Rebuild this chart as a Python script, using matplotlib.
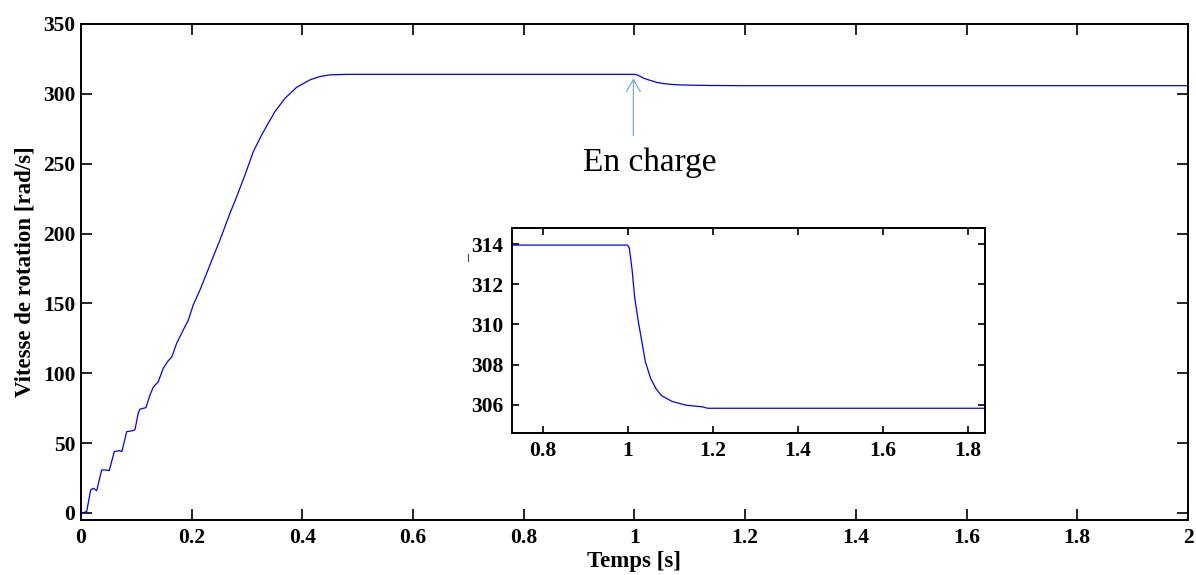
import matplotlib
matplotlib.use("Agg")
import matplotlib.pyplot as plt
from matplotlib.lines import Line2D

plt.rcParams["font.family"] = ["Liberation Serif", "DejaVu Serif"]

# Rotor speed response: start-up ramp, steady state, then load step at t = 1 s
time_s = [0.0, 0.0023, 0.0103, 0.0175, 0.0222, 0.0284, 0.0374, 0.0452, 0.0511,
          0.0602, 0.0692, 0.0740, 0.0826, 0.0934, 0.0975, 0.1035, 0.1066, 0.1174,
          0.1247, 0.1306, 0.1397, 0.1487, 0.1577, 0.1639, 0.1729, 0.1848, 0.1939,
          0.2029, 0.2150, 0.2271, 0.2390, 0.2511, 0.2692, 0.2813, 0.2963, 0.3113,
          0.3265, 0.3384, 0.3505, 0.3686, 0.3897, 0.4137, 0.4318, 0.4499, 0.4829,
          0.9990, 1.0030, 1.0097, 1.0156, 1.0240, 1.0324, 1.0408, 1.0534, 1.0660,
          1.0785, 1.1037, 1.1370, 1.1750, 1.1876, 2.0]
speed = [0.0, 0.0, 1.0, 16.5, 17.7, 16.0, 30.8, 30.8, 30.3,
         44.0, 44.6, 44.0, 58.2, 58.9, 59.5, 71.5, 74.3, 75.4,
         84.5, 90.0, 94.0, 103.6, 109.0, 111.5, 121.5, 131.0, 138.0,
         149.0, 159.6, 171.6, 183.5, 195.4, 214.5, 226.4, 241.9, 258.6,
         270.6, 279.0, 287.3, 296.8, 304.7, 310.0, 312.4, 313.6, 313.95,
         313.95, 313.8, 312.7, 311.35, 310.17, 309.16, 308.14, 307.3, 306.8,
         306.46, 306.17, 305.98, 305.9, 305.83, 305.83]

main_xticks = [0, 0.2, 0.4, 0.6, 0.8, 1.0, 1.2, 1.4, 1.6, 1.8, 2.0]
main_xticklabels = ["0", "0.2", "0.4", "0.6", "0.8", "1", "1.2", "1.4", "1.6", "1.8", "2"]
main_yticks = [0, 50, 100, 150, 200, 250, 300, 350]

inset_xticks = [0.8, 1.0, 1.2, 1.4, 1.6, 1.8]
inset_xticklabels = ["0.8", "1", "1.2", "1.4", "1.6", "1.8"]
inset_yticks = [306, 308, 310, 312, 314]

load_time = 0.998
annot_text = "En charge"

line_color = "#0000ff"
tick_font = dict(fontsize=15.5, fontweight="bold")

fig = plt.figure(figsize=(11.96, 5.75), dpi=100)
ax = fig.add_axes([0.0677, 0.0957, 0.9256, 0.8626])

ax.plot(time_s, speed, color=line_color, lw=0.9)
ax.set_xlim(0, 2)
ax.set_ylim(-5, 350)
ax.set_xticks(main_xticks)
ax.set_xticklabels(main_xticklabels, **tick_font)
ax.set_yticks(main_yticks)
ax.set_yticklabels([str(v) for v in main_yticks], **tick_font)
ax.tick_params(direction="in", length=8, width=1.2, top=True, right=True, pad=4)
ax.tick_params(axis="x", pad=6)
for s in ax.spines.values():
    s.set_linewidth(1.4)
ax.set_xlabel("Temps [s]", fontsize=16.5, fontweight="bold", labelpad=2)
ax.set_ylabel("Vitesse de rotation [rad/s]", fontsize=16.5, fontweight="bold", labelpad=5)

ax.annotate("", xy=(load_time, 311), xytext=(load_time, 270),
            arrowprops=dict(arrowstyle="->,head_length=0.86,head_width=0.5",
                            mutation_scale=10, color="#6f9fd8", lw=0.8,
                            shrinkA=0, shrinkB=0))
ax.text(1.028, 251, annot_text, fontsize=24, ha="center", va="center")

# Zoom on the load step
axi = fig.add_axes([0.4281, 0.2470, 0.3955, 0.3565])
axi.plot(time_s, speed, color=line_color, lw=0.9)
axi.set_xlim(0.727, 1.840)
axi.set_ylim(304.6, 314.8)
axi.set_xticks(inset_xticks)
axi.set_xticklabels(inset_xticklabels, **tick_font)
axi.set_yticks(inset_yticks)
axi.set_yticklabels([str(v) for v in inset_yticks], **tick_font)
axi.tick_params(direction="in", length=5, width=1.2, top=True, right=True, pad=6)
axi.tick_params(axis="x", pad=6)
for s in axi.spines.values():
    s.set_linewidth(1.4)

# small stray mark left of the inset
fig.add_artist(Line2D([468 / 1196, 468 / 1196], [1 - 254 / 575, 1 - 261 / 575],
                      transform=fig.transFigure, color="#444444", lw=0.8))

fig.savefig("out.png", dpi=100)
